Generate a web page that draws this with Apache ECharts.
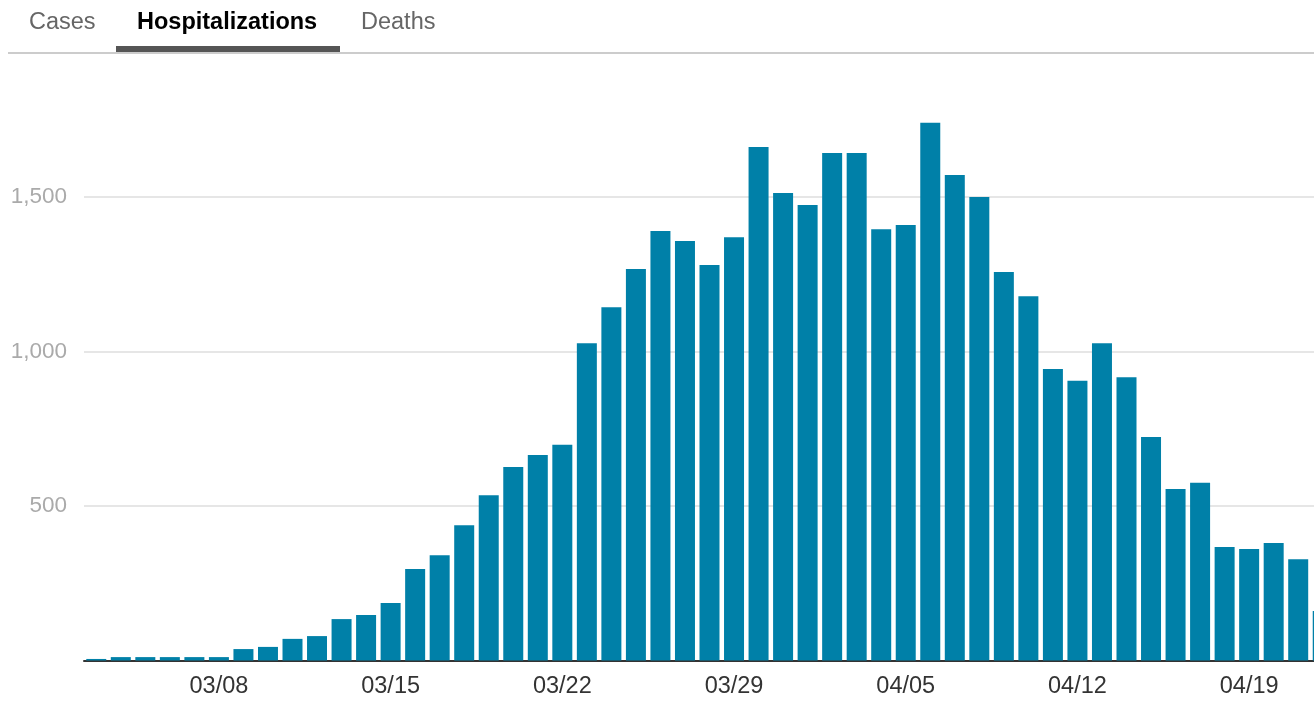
<!DOCTYPE html>
<html><head><meta charset="utf-8">
<script src="https://cdn.jsdelivr.net/npm/echarts@6/dist/echarts.min.js"></script>
<style>html,body{margin:0;padding:0;background:#fff;overflow:hidden;width:1314px;height:706px}#c{width:1340px;height:706px}</style>
</head><body><div id="c"></div>
<script>
const categories = ["03/03","03/04","03/05","03/06","03/07","03/08","03/09","03/10","03/11","03/12","03/13","03/14","03/15","03/16","03/17","03/18","03/19","03/20","03/21","03/22","03/23","03/24","03/25","03/26","03/27","03/28","03/29","03/30","03/31","04/01","04/02","04/03","04/04","04/05","04/06","04/07","04/08","04/09","04/10","04/11","04/12","04/13","04/14","04/15","04/16","04/17","04/18","04/19","04/20","04/21","04/22"];
const hospitalizations = [5,11,11,11,11,11,37,44,70,79,134,147,186,296,341,438,535,626,665,698,1027,1143,1267,1390,1358,1280,1370,1662,1513,1474,1642,1642,1396,1409,1740,1571,1500,1257,1179,943,905,1027,917,723,555,575,367,361,380,328,160];
const tabs = ["Cases","Hospitalizations","Deaths"];
const yTicks = [0,500,1000,1500,2000];

const chart = echarts.init(document.getElementById('c'), null, {renderer:'canvas'});
const FONT = '"Liberation Sans", Arial, sans-serif';
chart.setOption({
  animation:false,
  grid:{left:84, width:1251, top:42.5, bottom:45.5, containLabel:false, outerBoundsMode:'none'},
  xAxis:{
    type:'category', data:categories, boundaryGap:true,
    axisLine:{lineStyle:{color:'#333', width:2}},
    axisTick:{show:false},
    axisLabel:{color:'#333', fontSize:23.5, fontFamily:FONT, margin:14,
      interval:(i)=> (i-5)%7===0}
  },
  yAxis:{
    type:'value', min:yTicks[0], max:yTicks[yTicks.length-1], interval:500,
    axisLine:{show:false}, axisTick:{show:false},
    splitLine:{show:true, showMaxLine:false, lineStyle:{color:'#e6e6e6', width:2}},
    axisLabel:{color:'#aaa', fontSize:22.5, fontFamily:FONT, margin:17, showMinLabel:false, showMaxLabel:false}
  },
  series:[{type:'bar', data:hospitalizations, barWidth:20, itemStyle:{color:'#0080a8'}}],
  graphic:[
    {type:'rect', shape:{x:8,y:52,width:1330,height:2}, style:{fill:'#cccccc'}, z:10},
    {type:'rect', shape:{x:116,y:46,width:224,height:6}, style:{fill:'#555555'}, z:11},
    {type:'text', x:29, y:22.5, style:{text:tabs[0], fill:'#666', font:'23.5px '+FONT, textVerticalAlign:'middle'}, z:10},
    {type:'text', x:137, y:22.5, style:{text:tabs[1], fill:'#000', font:'bold 23.5px '+FONT, textVerticalAlign:'middle'}, z:10},
    {type:'text', x:361, y:22.5, style:{text:tabs[2], fill:'#666', font:'23.5px '+FONT, textVerticalAlign:'middle'}, z:10}
  ]
});
</script></body></html>
